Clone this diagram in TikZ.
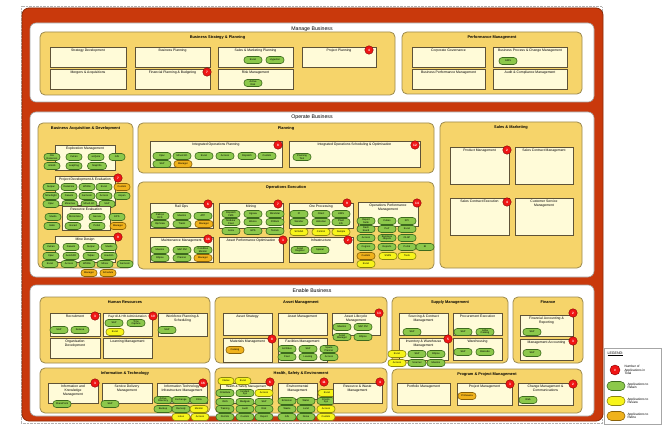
\documentclass[tikz,border=0pt]{standalone}
\usepackage{fontspec}
\setmainfont{Liberation Sans}
\definecolor{frameR}{HTML}{C9390C}
\definecolor{frameD}{HTML}{8B2A08}
\definecolor{grpY}{HTML}{F6D46A}
\definecolor{grpB}{HTML}{9C8A4E}
\definecolor{crm}{HTML}{FFFBD8}
\definecolor{crmB}{HTML}{5E5237}
\definecolor{pg}{HTML}{8CC84B}
\definecolor{pgB}{HTML}{3D6B1E}
\definecolor{py}{HTML}{F7F41A}
\definecolor{pyB}{HTML}{8A8410}
\definecolor{po}{HTML}{F0B21C}
\definecolor{poB}{HTML}{8A6208}
\definecolor{rdC}{HTML}{F01515}
\newcounter{pc}
\newcommand\PL[4][gp]{\stepcounter{pc}\node[#1] (pill\arabic{pc}) at (#2,#3) {#4};}
\newcommand\RD[3]{\stepcounter{pc}\node[rdot] (dot\arabic{pc}) at (#1,#2) {#3};}
\newcommand\CB[5]{\draw[cbox] (#1,#2) rectangle (#3,#4);\stepcounter{pc}\node[clab] (lab\arabic{pc}) at ({(#1+#3)/2},{#2+1.3}) {#5};}
\newcommand\GR[5]{\draw[grp] (#1,#2) rectangle (#3,#4);\stepcounter{pc}\node[gtitle] (grp\arabic{pc}) at ({(#1+#3)/2},{#2+5.5}) {#5};}
\begin{document}
\begin{tikzpicture}[x=1pt,y=-1pt,
  panel/.style={draw=gray!70,line width=0.6,fill=white,rounded corners=6},
  ptitle/.style={font=\fontsize{5.2}{6}\selectfont,inner sep=0.5},
  grp/.style={draw=grpB,line width=0.8,fill=grpY,rounded corners=5},
  gtitle/.style={font=\fontsize{3.9}{4.5}\selectfont\bfseries,inner sep=0.5},
  cbox/.style={draw=crmB,line width=0.9,fill=crm},
  clab/.style={anchor=north,align=center,font=\fontsize{3.4}{3.8}\selectfont,inner sep=0.5},
  pill/.style={rounded corners=3.2,minimum width=18,minimum height=7,inner sep=0.2,line width=0.6,font=\fontsize{2.5}{2.7}\selectfont,align=center},
  gp/.style={pill,fill=pg,draw=pgB},
  yp/.style={pill,fill=py,draw=pyB},
  op/.style={pill,fill=po,draw=poB},
  bp/.style={gp,minimum width=16},
  bo/.style={op,minimum width=16},
  rdot/.style={circle,fill=rdC,draw=red!50!black,line width=0.4,minimum size=8.5,inner sep=0,font=\fontsize{3.2}{3.2}\selectfont\bfseries,text=white},
  lgtext/.style={anchor=west,align=left,font=\fontsize{3.2}{3.6}\selectfont,inner sep=0.3}]
\useasboundingbox (0,0) rectangle (662,425);
\fill[white] (0,0) rectangle (662,425);
\draw[gray!60,densely dotted] (21,6.5) rectangle (602,423.5);
\draw[fill=frameR,draw=frameD,line width=0.8,rounded corners=7] (22,8) rectangle (603,421);

% ================= MANAGE BUSINESS =================
\draw[panel] (30,23) rectangle (594,102);
\node[ptitle] (tManage) at (312,29) {Manage Business};
\GR{40}{32}{395}{95}{Business Strategy \& Planning}
\CB{50}{47}{126}{67}{Strategy Development}
\CB{50}{69}{126}{89}{Mergers \& Acquisitions}
\CB{135}{47}{210}{67}{Business Planning}
\CB{135}{69}{210}{89}{Financial Planning \& Budgeting}
\RD{207}{72}{7}
\CB{218}{47}{293}{67}{Sales \& Marketing Planning}
\PL{253}{60}{Excel}
\PL{275}{60}{Hyperion}
\CB{218}{69}{293}{89}{Risk Management}
\PL{253}{83}{Active\\Risk}
\CB{302}{47}{376}{67}{Project Planning}
\RD{369}{50}{4}

\GR{402}{32}{582}{94}{Performance Management}
\CB{412}{47}{485}{67}{Corporate Governance}
\CB{412}{69}{485}{89}{Business Performance Management}
\CB{493}{47}{567}{67}{Business Process \& Change Management}
\PL{508}{61}{ARIS}
\CB{493}{69}{567}{89}{Audit \& Compliance Management}

% ================= OPERATE BUSINESS =================
\draw[panel] (30,112) rectangle (594,277);
\node[ptitle] (tOperate) at (312,117) {Operate Business};

% Business Acquisition & Development
\GR{38}{123}{133}{268}{Business Acquisition \& Development}
\CB{55}{145}{115}{170}{Exploration Management}
\PL[bp]{52}{157}{Ore\\Reserves}
\PL[bp]{74}{157}{Vulcan}
\PL[bp]{96}{157}{acQuire}
\PL[bp]{117}{157}{GIS}
\PL[bp]{52}{166}{ioGAS}
\PL[bp]{74}{166}{Leapfrog}
\PL[bp,minimum width=19]{97}{166}{MapInfo}
\CB{55}{176}{115}{205}{Project Development \& Evaluation}
\RD{118}{178}{7}
\PL[bp]{51}{187}{Surpac}
\PL[bp]{69}{187}{Datamine}
\PL[bp]{87}{187}{Whittle}
\PL[bp]{104}{187}{Excel}
\PL[bo]{122}{187}{Custom}
\PL[bp]{51}{196}{MineSight}
\PL[bp]{69}{196}{Deswik}
\PL[bp]{87}{196}{Gemcom}
\PL[bp]{104}{196}{Access}
\PL[bp]{122}{196}{Aspen}
\PL[bp]{51}{204}{Xpac}
\PL[bp]{70}{204}{Minemax}
\PL[bp]{89}{204}{Mine2-4D}
\PL[bp]{107}{204}{SAP}
\CB{62}{206}{110}{230}{Resource Evaluation}
\PL[bp]{53}{217}{Studio}
\PL[bp]{75}{217}{Micromine}
\PL[bp]{97}{217}{Geovia}
\PL[bp]{117}{217}{EPS}
\PL[bp]{52}{226}{Isatis}
\PL[bp]{73}{226}{Gocad}
\PL[bp]{97}{226}{Petrel}
\PL[bo]{118}{226}{Manager}
\CB{55}{236}{115}{262}{Mine Design}
\RD{118}{237}{9}
\PL[bp]{51}{247}{Vulcan}
\PL[bp]{71}{247}{Deswik}
\PL[bp]{91}{247}{Surpac}
\PL[bp]{109}{247}{Studio}
\PL[bp]{51}{256}{Xpac}
\PL[bp]{71}{256}{AutoCAD}
\PL[bp]{91}{256}{Talpac}
\PL[bp]{109}{256}{Haulsim}
\PL[bp]{50}{264}{Excel}
\PL[bp]{69}{264}{Access}
\PL[bp]{87}{264}{Whittle}
\PL[bp]{105}{264}{Minex}
\PL[bp]{125}{264}{Gemcom}
\PL[bo]{89}{273}{Manager}
\PL[bo]{108}{273}{Schedule}

% Planning
\GR{138}{123}{434}{173}{Planning}
\CB{150}{141}{282}{167}{Integrated Operations Planning}
\RD{278}{145}{8}
\PL{162}{156}{Xpac}
\PL{182}{156}{Mine2-4D}
\PL{204}{156}{Excel}
\PL{225}{156}{Access}
\PL{247}{156}{Dispatch}
\PL{267}{156}{Custom}
\PL{162}{164}{SAP}
\PL[op]{183}{164}{Manager}
\CB{289}{141}{420}{167}{Integrated Operations Scheduling \& Optimisation}
\RD{415}{145}{12}
\PL{302}{157}{Planning\\Tool}

% Operations Execution
\GR{138}{182}{434}{269}{Operations Execution}
\CB{150}{203}{213}{228}{Rail Ops}
\RD{208}{204}{6}
\PL{160}{216}{Railsys\\RCS}
\PL{182}{216}{Maximo}
\PL{203}{216}{ATP}
\PL{160}{224}{OpsView}
\PL{182}{224}{Trainz}
\PL[op]{204}{224}{Manager}
\CB{219}{203}{283}{228}{Mining}
\RD{278}{204}{7}
\PL{231}{214}{Dispatch\\FMS}
\PL{253}{214}{Jigsaw}
\PL{275}{214}{MineStar}
\PL{231}{222}{Modular\\Fleet}
\PL{253}{222}{Wenco}
\PL{275}{222}{PitRam}
\PL{231}{231}{Leica}
\PL{253}{231}{GPS}
\PL{275}{231}{Terrain}
\CB{289}{203}{353}{228}{Ore Processing}
\RD{347}{203}{9}
\PL{299}{214}{PI}
\PL{321}{214}{Citect}
\PL{341}{214}{LIMS}
\PL{299}{222}{Wonder}
\PL{321}{222}{Historian}
\PL{341}{222}{Plant\\Info}
\PL[yp]{299}{232}{SCADA}
\PL[yp]{321}{232}{Control}
\PL[yp]{341}{232}{Sample}
\CB{358}{202}{418}{226}{Operations Performance\\Management}
\RD{417}{203}{14}
\PL{366}{221}{Report\\Suite}
\PL{387}{221}{Cubes}
\PL{407}{221}{KPI}
\PL{366}{229}{Dash\\board}
\PL{387}{229}{Perf}
\PL{407}{229}{Excel}
\PL{366}{238}{Access}
\PL{387}{238}{Business\\Objects}
\PL{407}{238}{OLAP}
\PL{366}{247}{Cognos}
\PL{387}{247}{Reports}
\PL{407}{247}{Portal}
\PL{425}{247}{BI}
\PL[op]{366}{256}{Custom}
\PL[yp]{388}{256}{SSRS}
\PL[yp]{407}{256}{Tools}
\PL[yp]{366}{264}{Excel}
\CB{150}{237}{213}{262}{Maintenance Management}
\RD{208}{239}{16}
\PL{160}{250}{Maximo}
\PL{182}{250}{SAP PM}
\PL{203}{250}{Condition\\Monitor}
\PL{160}{258}{Ellipse}
\PL{182}{258}{Planner}
\PL[op]{203}{258}{Manager}
\CB{219}{237}{283}{262}{Asset Performance Optimisation}
\RD{283}{240}{3}
\CB{289}{237}{353}{262}{Infrastructure}
\RD{348}{240}{2}
\PL{300}{250}{Asset\\Register}
\PL{320}{250}{Spatial}

% Sales & Marketing
\GR{440}{122}{582}{268}{Sales \& Marketing}
\CB{450}{147}{509}{184}{Product Management}
\RD{507}{150}{2}
\CB{515}{147}{573}{184}{Sales Contract Management}
\CB{450}{198}{509}{235}{Sales Contract Execution}
\RD{507}{202}{4}
\CB{515}{198}{573}{235}{Customer Service\\Management}

% ================= ENABLE BUSINESS =================
\draw[panel] (30,285) rectangle (594,416);
\node[ptitle] (tEnable) at (312,291) {Enable Business};

% Human Resources
\GR{40}{297}{210}{363}{Human Resources}
\CB{50}{313}{100}{336}{Recruitment}
\RD{95}{316}{3}
\PL{59}{330}{SAP}
\PL{80}{330}{Kenexa}
\CB{103}{313}{152}{336}{{\fontsize{3.1}{3.5}\selectfont Payroll \& HR Administration}}
\RD{153}{316}{10}
\PL{114}{323}{SAP}
\PL{136}{323}{Time\\Capture}
\PL[yp]{115}{332}{Excel}
\CB{158}{313}{207}{336}{Workforce Planning \&\\Scheduling}
\PL{167}{330}{SAP}
\CB{50}{338}{100}{358}{Organisation\\Development}
\CB{103}{338}{152}{358}{Learning Management}

% Information & Technology
\GR{40}{368}{210}{413}{Information \& Technology}
\CB{48}{383}{98}{403}{Information and\\Knowledge\\Management}
\RD{95}{383}{3}
\PL{62}{404}{SharePoint}
\CB{102}{383}{152}{403}{Service Delivery\\Management}
\PL{110}{404}{SAP}
\CB{157}{383}{207}{403}{Information Technology\\Infrastructure Management}
\RD{203}{383}{16}
\PL{163}{400}{Active\\Directory}
\PL{181}{400}{Exchange}
\PL{199}{400}{Citrix}
\PL{163}{409}{Backup}
\PL{181}{409}{Remedy}
\PL[yp]{199}{409}{Monitor}
\PL[yp]{181}{417}{Lotus}
\PL[yp]{200}{417}{Access}

% Asset Management
\GR{215}{297}{387}{363}{Asset Management}
\CB{223}{313}{272}{335}{Asset Strategy}
\CB{278}{313}{327}{335}{Asset Management}
\CB{332}{313}{380}{335}{Asset Lifecycle\\Management}
\RD{379}{313}{13}
\PL{342}{327}{Maximo}
\PL{363}{327}{SAP PM}
\PL{342}{337}{Asset\\Manager}
\PL{363}{337}{Ellipse}
\CB{223}{338}{272}{362}{Materials Management}
\RD{272}{339}{8}
\PL[op]{235}{350}{Catalog}
\CB{278}{338}{327}{362}{Facilities Management}
\PL{287}{349}{Archibus}
\PL{308}{349}{SAP}
\PL{329}{349}{Space\\Planner}
\PL{287}{357}{Fleet}
\PL{308}{357}{Leasing}
\PL{329}{357}{Access}

% Health, Safety & Environment
\GR{215}{368}{387}{413}{Health, Safety \& Environment}
\CB{220}{383}{272}{403}{{\fontsize{3.1}{3.5}\selectfont Health \& Safety Management}}
\RD{270}{382}{6}
\PL[yp,minimum width=16]{226}{381}{Intelex}
\PL[yp,minimum width=16]{243}{381}{Excel}
\PL{225}{393}{Cintellate}
\PL{245}{393}{Incident\\Sys}
\PL[yp]{264}{393}{Access}
\PL{225}{402}{OHS}
\PL{245}{402}{Medgate}
\PL{264}{402}{SAP}
\PL{225}{409}{Training}
\PL{245}{409}{Audit}
\PL{264}{409}{Risk}
\PL{225}{417}{Permits}
\PL{245}{417}{Custom}
\PL{264}{417}{Report}
\CB{278}{383}{317}{399}{Environmental\\Management}
\RD{324}{382}{11}
\PL[yp]{327}{393}{Excel}
\PL{287}{401}{Emission}
\PL{306}{401}{Water}
\PL{326}{401}{Enviro\\Sys}
\PL{287}{409}{Waste}
\PL{306}{409}{Land}
\PL[yp]{326}{409}{Access}
\PL{287}{417}{GIS}
\PL{306}{417}{Noise}
\PL[yp]{326}{417}{Custom}
\CB{333}{383}{382}{403}{Resource \& Waste\\Management}
\RD{380}{382}{4}

% Supply Management
\GR{392}{297}{508}{363}{Supply Management}
\CB{399}{313}{448}{335}{Sourcing \& Contract\\Management}
\PL{412}{332}{SAP}
\CB{453}{313}{502}{335}{Procurement Execution}
\PL{463}{332}{SAP}
\PL{485}{332}{Ariba\\Catalog}
\CB{399}{338}{448}{360}{Inventory \& Warehouse\\Management}
\RD{448}{339}{5}
\PL[yp]{397}{354}{Excel}
\PL[yp]{397}{363}{Access}
\PL{417}{354}{SAP}
\PL{436}{354}{Ellipse}
\PL{417}{363}{Scanner}
\PL{436}{363}{Maximo}
\CB{453}{338}{502}{360}{Warehousing}
\PL{463}{352}{SAP}
\PL{485}{352}{Barcode}

% Finance
\GR{513}{297}{583}{363}{Finance}
\CB{520}{315}{573}{336}{Financial Accounting \&\\Reporting}
\RD{573}{313}{2}
\PL{532}{332}{SAP}
\CB{520}{339}{573}{360}{Management Accounting}
\RD{573}{341}{3}
\PL{532}{353}{SAP}

% Program & Project Management
\GR{392}{369}{582}{413}{Program \& Project Management}
\CB{397}{383}{450}{405}{Portfolio Management}
\CB{457}{383}{512}{405}{Project Management}
\RD{510}{384}{3}
\PL[op]{467}{396}{Primavera}
\CB{518}{383}{573}{405}{Change Management \&\\Communications}
\RD{573}{384}{2}
\PL{528}{400}{Web}

% ================= LEGEND =================
\draw[draw=gray!70,line width=0.6,fill=white] (604,348) rectangle (661.5,424.5);
\node[lgtext,font=\fontsize{3.6}{4}\selectfont] (lgTitle) at (607,354) {\underline{LEGEND:}};
\node[rdot,minimum size=10] (lgDot) at (615,370) {\#};
\node[lgtext] (lgDotT) at (624,370) {Number of\\Applications in\\Total};
\node[gp,minimum width=18,minimum height=9,rounded corners=4.5] (lgG) at (616,386) {};
\node[lgtext] (lgGT) at (627,386) {Applications to\\Retain};
\node[yp,minimum width=18,minimum height=9,rounded corners=4.5] (lgY) at (616,401) {};
\node[lgtext] (lgYT) at (627,401) {Applications to\\Review};
\node[op,minimum width=18,minimum height=9,rounded corners=4.5] (lgO) at (616,416) {};
\node[lgtext] (lgOT) at (627,416) {Applications to\\Retire};
\end{tikzpicture}
\end{document}
